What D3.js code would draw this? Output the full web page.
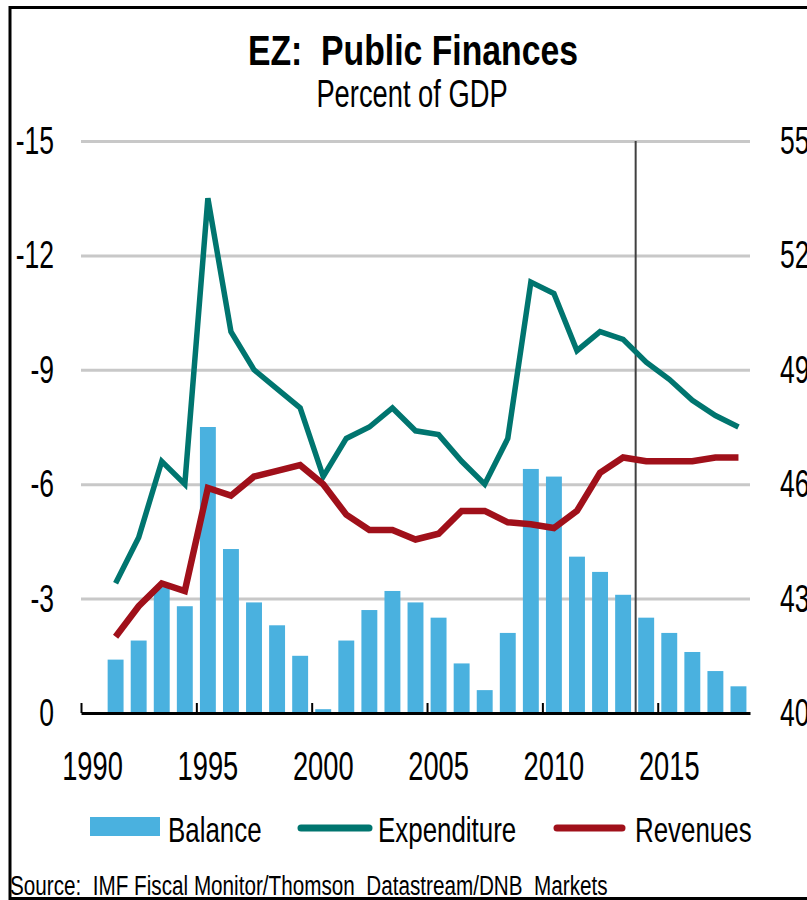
<!DOCTYPE html>
<html>
<head>
<meta charset="utf-8">
<script src="https://cdn.jsdelivr.net/npm/d3@7"></script>
<style>
  body { margin: 0; background: #fff; }
  svg { display: block; font-family: "Liberation Sans", Arial, sans-serif; }
</style>
</head>
<body>
<div id="chart"></div>
<script>
// data (percent of GDP)
const years = ['1990', '1991', '1992', '1993', '1994', '1995', '1996', '1997', '1998', '1999',
               '2000', '2001', '2002', '2003', '2004', '2005', '2006', '2007', '2008', '2009',
               '2010', '2011', '2012', '2013', '2014', '2015', '2016', '2017', '2018'];
const balance = [null, -1.4, -1.9, -3.3, -2.8, -7.5, -4.3, -2.9, -2.3, -1.5,
                 -0.1, -1.9, -2.7, -3.2, -2.9, -2.5, -1.3, -0.6, -2.1, -6.4,
                 -6.2, -4.1, -3.7, -3.1, -2.5, -2.1, -1.6, -1.1, -0.7];
const expenditure = [null, 43.4, 44.6, 46.6, 46.0, 53.5, 50.0, 49.0, 48.5, 48.0,
                     46.2, 47.2, 47.5, 48.0, 47.4, 47.3, 46.6, 46.0, 47.2, 51.3,
                     51.0, 49.5, 50.0, 49.8, 49.2, 48.75, 48.2, 47.8, 47.5];
const revenues = [null, 42.0, 42.8, 43.4, 43.2, 45.9, 45.7, 46.2, 46.35, 46.5,
                  46.0, 45.2, 44.8, 44.8, 44.55, 44.7, 45.3, 45.3, 45.0, 44.95,
                  44.85, 45.3, 46.3, 46.7, 46.6, 46.6, 46.6, 46.7, 46.7];
const seriesNames = ['Balance', 'Expenditure', 'Revenues'];
const leftTicks = [0, -3, -6, -9, -12, -15];
const rightTicks = [40, 43, 46, 49, 52, 55];
const xLabelYears = ['1990', '1995', '2000', '2005', '2010', '2015'];
const forecastStart = '2014';
const titleText = 'EZ:  Public Finances';
const subtitleText = 'Percent of GDP';
const sourceText = 'Source:  IMF Fiscal Monitor/Thomson  Datastream/DNB  Markets';

const W = 807, H = 900;
const PLOT = { left: 81, right: 750, top: 141, bottom: 713 };
const BAR_COLOR = '#4AB1DF';
const EXP_COLOR = '#00756F';
const REV_COLOR = '#A0101A';

const svg = d3.select('#chart')
  .append('svg')
  .attr('width', W)
  .attr('height', H);

// the chart font is very condensed, squeeze text horizontally
function squeeze(sel, k) {
  sel.each(function() {
    const w = this.getComputedTextLength();
    d3.select(this)
      .attr('textLength', w * k)
      .attr('lengthAdjust', 'spacingAndGlyphs');
  });
}

// scales
const x = d3.scaleBand()
  .domain(years)
  .range([PLOT.left, PLOT.right])
  .paddingInner(0.31)
  .paddingOuter(0.155);
const xEdge = d3.scaleLinear()
  .domain([+years[0], +years[years.length - 1] + 1])
  .range([PLOT.left, PLOT.right]);
const yL = d3.scaleLinear().domain([0, -15]).range([PLOT.bottom, PLOT.top]);
const yR = d3.scaleLinear().domain([40, 55]).range([PLOT.bottom, PLOT.top]);

// frame
svg.append('rect')
  .attr('x', 10)
  .attr('y', 7.5)
  .attr('width', 900)
  .attr('height', 891)
  .attr('fill', 'none')
  .attr('stroke', '#000')
  .attr('stroke-width', 3);

// gridlines
svg.append('g')
  .attr('transform', `translate(${PLOT.left},0)`)
  .call(d3.axisLeft(yL).tickValues(leftTicks.slice(1)).tickSize(-(PLOT.right - PLOT.left)).tickFormat(''))
  .call(g => g.select('.domain').remove())
  .call(g => g.selectAll('line').attr('stroke', '#C8C8C8').attr('stroke-width', 3));

// bars
svg.append('g')
  .selectAll('rect')
  .data(years.map((y, i) => ({ year: y, value: balance[i] })).filter(d => d.value !== null))
  .enter()
  .append('rect')
  .attr('x', d => x(d.year))
  .attr('width', x.bandwidth())
  .attr('y', d => yL(d.value))
  .attr('height', d => yL(0) - yL(d.value))
  .attr('fill', BAR_COLOR);

// forecast divider
svg.append('line')
  .attr('x1', x(forecastStart) - x.step() * x.paddingInner() / 2 + 1)
  .attr('x2', x(forecastStart) - x.step() * x.paddingInner() / 2 + 1)
  .attr('y1', PLOT.top)
  .attr('y2', PLOT.bottom)
  .attr('stroke', '#404040')
  .attr('stroke-width', 2);

// lines
const lineFor = vals => d3.line()
  .defined((d, i) => vals[i] !== null)
  .x(d => x(d) + x.bandwidth() / 2)
  .y((d, i) => yR(vals[i]));

svg.append('path')
  .attr('d', lineFor(expenditure)(years))
  .attr('fill', 'none')
  .attr('stroke', EXP_COLOR)
  .attr('stroke-width', 5.5)
  .attr('stroke-linejoin', 'miter');

svg.append('path')
  .attr('d', lineFor(revenues)(years))
  .attr('fill', 'none')
  .attr('stroke', REV_COLOR)
  .attr('stroke-width', 6.5)
  .attr('stroke-linejoin', 'miter');

// x axis: line + inward tick marks at category edges
svg.append('g')
  .attr('transform', `translate(0,${PLOT.bottom})`)
  .call(d3.axisBottom(xEdge).tickValues(xLabelYears.map(Number)).tickSizeInner(-10).tickSizeOuter(0).tickFormat(''))
  .call(g => g.select('.domain').attr('stroke', '#000').attr('stroke-width', 3))
  .call(g => g.selectAll('line').attr('stroke', '#000').attr('stroke-width', 2));

// x labels centred on categories
const xLab = svg.append('g')
  .attr('transform', `translate(0,${PLOT.bottom})`)
  .call(d3.axisBottom(x).tickValues(xLabelYears).tickSize(0).tickPadding(38))
  .call(g => g.select('.domain').remove());
xLab.selectAll('text')
  .attr('font-size', 41)
  .attr('font-family', null)
  .attr('fill', '#000')
  .call(squeeze, 0.665);

// left axis labels
const yLab = svg.append('g')
  .attr('transform', `translate(${PLOT.left},0)`)
  .call(d3.axisLeft(yL).tickValues(leftTicks).tickSize(0).tickPadding(27).tickFormat(d => String(d)))
  .call(g => g.select('.domain').remove());
yLab.selectAll('text')
  .attr('font-size', 39)
  .attr('font-family', null)
  .attr('fill', '#000')
  .call(squeeze, 0.68);

// right axis labels
const yRLab = svg.append('g')
  .attr('transform', `translate(${PLOT.right},0)`)
  .call(d3.axisRight(yR).tickValues(rightTicks).tickSize(0).tickPadding(30).tickFormat(d => String(d)))
  .call(g => g.select('.domain').remove());
yRLab.selectAll('text')
  .attr('font-size', 39)
  .attr('font-family', null)
  .attr('fill', '#000')
  .call(squeeze, 0.68);

// title + subtitle
svg.append('text')
  .attr('x', 413)
  .attr('y', 65)
  .attr('text-anchor', 'middle')
  .attr('font-size', 43)
  .attr('font-weight', 'bold')
  .style('white-space', 'pre')
  .text(titleText)
  .call(squeeze, 0.785);

svg.append('text')
  .attr('x', 412)
  .attr('y', 107)
  .attr('text-anchor', 'middle')
  .attr('font-size', 39)
  .text(subtitleText)
  .call(squeeze, 0.70);

// legend
const legend = svg.append('g');
legend.append('rect')
  .attr('x', 90).attr('y', 817)
  .attr('width', 70).attr('height', 19)
  .attr('fill', BAR_COLOR);
legend.append('line')
  .attr('x1', 301).attr('x2', 369)
  .attr('y1', 828).attr('y2', 828)
  .attr('stroke', EXP_COLOR).attr('stroke-width', 7).attr('stroke-linecap', 'round');
legend.append('line')
  .attr('x1', 557).attr('x2', 622)
  .attr('y1', 828).attr('y2', 828)
  .attr('stroke', REV_COLOR).attr('stroke-width', 7).attr('stroke-linecap', 'round');
legend.selectAll('text')
  .data(seriesNames)
  .enter()
  .append('text')
  .attr('x', (d, i) => [168, 378, 635][i])
  .attr('y', 842)
  .attr('font-size', 35)
  .text(d => d)
  .call(squeeze, 0.74);

// source
svg.append('text')
  .attr('x', 10)
  .attr('y', 895)
  .attr('font-size', 27)
  .style('white-space', 'pre')
  .text(sourceText)
  .call(squeeze, 0.766);
</script>
</body>
</html>
